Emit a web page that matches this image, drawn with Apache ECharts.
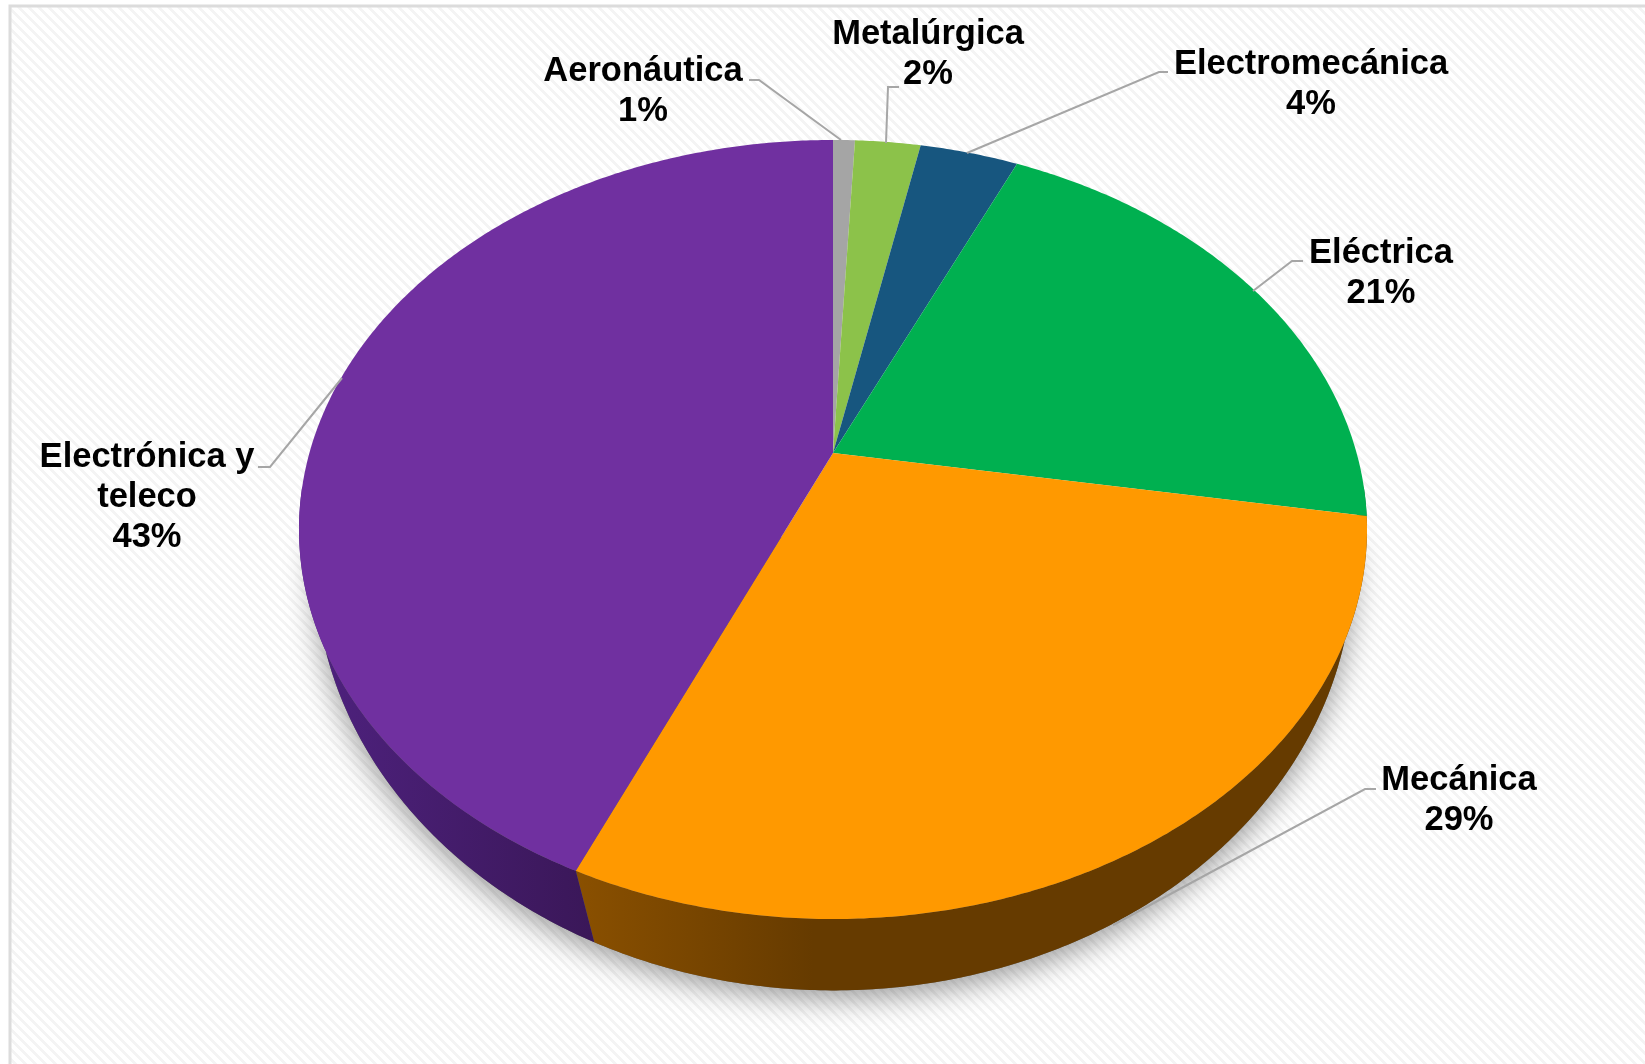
<!DOCTYPE html>
<html><head><meta charset="utf-8">
<style>html,body{margin:0;padding:0;background:#fff}#c{width:1645px;height:1064px}</style>
<script src="https://cdn.jsdelivr.net/npm/echarts@6/dist/echarts.min.js"></script>
</head><body><div id="c"></div>
<script>
const categories = ['Aeronáutica','Metalúrgica','Electromecánica','Eléctrica','Mecánica','Electrónica y\nteleco'];
const shares = [0.8, 2.4, 3.6, 20.8, 29.0, 43.4];
const topColors = ['#a5a5a5','#8cc24a','#17567f','#00b050','#ff9900','#7030a0'];
const wallLeft = ['#6a6a6a','#5a7d30','#0f3852','#007134','#8a5000','#4f2280'];
const wallRight = ['#6a6a6a','#5a7d30','#0f3852','#007134','#663b00','#3a1758'];
const wallStops = [1,1,1,1,0.3,1];
const labelCentres = [[643,51],[928,14],[1311,44],[1381,233],[1459,760],[147,437]];
const leaders = [
 [[749,80],[759,80],[841,140]],
 [[899,87],[888,87],[886,143]],
 [[1168,72],[1159,72],[967,153]],
 [[1303,261],[1292,261],[1253,291]],
 [[1376,789],[1365,789],[1113,925]],
 [[258,467],[270,467],[342,378]]
];
const topDisc = {cx:833, ay:453, a:523.6, b:374.5, k:0.1964};
const baseDisc = {cx:834, ay:500.5, a:513.2, b:416.4, k:0.15};

function project(d, deg){
  const t = deg*Math.PI/180, u = Math.sin(t), v = Math.cos(t), w = 1 + d.k*v;
  return [d.cx + d.a*u/w, d.ay - d.b*v/w];
}
function arc(d, from, to){
  const n = Math.max(2, Math.ceil(Math.abs(to-from)*2)), out = [];
  for(let i=0;i<=n;i++) out.push(project(d, from+(to-from)*i/n));
  return out;
}
const total = shares.reduce((s,v)=>s+v,0);
const spans = []; let acc = 0;
shares.forEach(v=>{spans.push([acc/total*360,(acc+v)/total*360]); acc+=v;});

const pattern = document.createElement('canvas');
pattern.width = 10; pattern.height = 10;
(function(){
  const g = pattern.getContext('2d');
  g.fillStyle='#fff'; g.fillRect(0,0,10,10);
  g.fillStyle='#f4f4f4';
  for(let i=0;i<10;i++){ for(let w=0;w<4;w++){ g.fillRect((i+w)%10,i,1,1);} }
})();

const chart = echarts.init(document.getElementById('c'),null,{renderer:'canvas'});
const rows = categories.map((c,i)=>[i,shares[i]]);
chart.setOption({
  backgroundColor:'#ffffff',
  animation:false,
  graphic:[{type:'rect',z:-10,shape:{x:10,y:6,width:1700,height:1100},
    style:{fill:{image:pattern,repeat:'repeat'},stroke:'#dcdcdc',lineWidth:3}}],
  series:[
   {type:'custom',coordinateSystem:'none',z:1,silent:true,data:[[0]],
    renderItem(){
      return {type:'polygon',shape:{points:arc(baseDisc,95,265)},
        style:{fill:'#666',shadowColor:'rgba(0,0,0,0.4)',shadowBlur:30,shadowOffsetY:8}};
    }},
   {type:'custom',coordinateSystem:'none',z:2,silent:true,data:rows,
    renderItem(p,api){
      const i=api.value(0);
      const s=Math.max(spans[i][0],95), e=Math.min(spans[i][1],265);
      if(e<=s) return null;
      const pts=arc(topDisc,s,e).concat(arc(baseDisc,e,s));
      return {type:'polygon',shape:{points:pts},style:{
        fill:new echarts.graphic.LinearGradient(0,0,1,0,[{offset:0,color:wallLeft[i]},{offset:wallStops[i],color:wallRight[i]},{offset:1,color:wallRight[i]}])}};
    }},
   {type:'custom',coordinateSystem:'none',z:3,silent:true,data:rows,
    renderItem(p,api){
      const i=api.value(0),[s,e]=spans[i];
      return {type:'polygon',shape:{points:[[topDisc.cx,topDisc.ay]].concat(arc(topDisc,s,e))},
        style:{fill:topColors[i]}};
    }},
   {type:'custom',coordinateSystem:'none',z:4,silent:true,data:rows,
    renderItem(p,api){
      const i=api.value(0),[x,y]=labelCentres[i];
      return {type:'group',children:[
        {type:'polyline',shape:{points:leaders[i]},style:{fill:null,stroke:'#a6a6a6',lineWidth:2}},
        {type:'text',x,y,style:{text:categories[i]+'\n'+Math.round(api.value(1))+'%',
          fill:'#000',font:'bold 34.5px "Liberation Sans",Arial,sans-serif',
          align:'center',verticalAlign:'top',lineHeight:40}}
      ]};
    }}
  ]
});
</script></body></html>
